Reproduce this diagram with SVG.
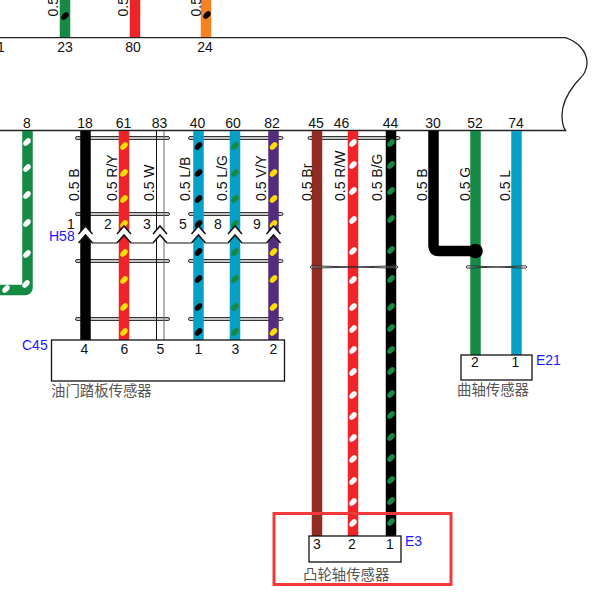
<svg xmlns="http://www.w3.org/2000/svg" width="602" height="604" viewBox="0 0 602 604">
<style>
text{font-family:"Liberation Sans",Arial,sans-serif;font-size:14px;fill:#111}
.m{text-anchor:middle}
.b{fill:#1a1aff}
.c{font-family:"Noto Sans CJK SC",sans-serif;font-size:14.4px;fill:#555}
.w{fill:none;stroke-width:10.5}
.box{fill:#fff;stroke:#111;stroke-width:1.3}
.bar{fill:#c4c4c4;stroke:#333;stroke-width:1}
.chev{fill:#fff;stroke:none}
.chevl{fill:none;stroke:#111;stroke-width:1.5}
.thin{fill:none;stroke:#111;stroke-width:1}
.tw{fill:#fff;fill-opacity:.3;stroke:#222;stroke-width:.9}
</style>
<defs>
<ellipse id="d" rx="4.500" ry="2.800" transform="rotate(-48)"/>
<g id="ch">
<path class="chev" d="M-7 8L0 0L7 8V17L0 9L-7 17Z"/>
<path class="chevl" d="M-7 8L0 0L7 8M-7 17L0 9L7 17"/>
</g>
</defs>
<rect width="602" height="604" fill="#fff"/>

<g id="harness">
<path d="M0 37.700H565.500C578 42 587 51 587 63C587 73 581 77 575 84C568 93 562 104 562 115C562 122 563 127 565.500 130.500H0" fill="#fff" stroke="#222" stroke-width="1.300"/>
</g>

<g id="clamps">
<rect class="bar" x="75.500" y="136.500" width="94" height="3" rx="1.500"/>
<rect class="bar" x="188.500" y="136.500" width="94.500" height="3" rx="1.500"/>
<rect class="bar" x="308" y="136.500" width="92" height="3" rx="1.500"/>
<rect class="bar" x="75.500" y="212.500" width="94" height="3" rx="1.500"/>
<rect class="bar" x="188.500" y="212.500" width="94.500" height="3" rx="1.500"/>
<rect class="bar" x="75.500" y="259.500" width="94" height="3" rx="1.500"/>
<rect class="bar" x="188.500" y="259.500" width="94.500" height="3" rx="1.500"/>
<rect class="bar" x="75.500" y="317.500" width="94" height="3" rx="1.500"/>
<rect class="bar" x="188.500" y="317.500" width="94.500" height="3" rx="1.500"/>
</g>

<g id="connectors">
<path class="w" stroke="#148a45" d="M65 0V37"/>
<path class="w" stroke="#ee2429" d="M135 0V37"/>
<path class="w" stroke="#f58220" d="M206 0V37"/>
<path class="w" stroke="#148a45" d="M27.500 131V288Q27.500 290 25 290H0"/>
<path class="w" stroke="#000" d="M85.500 131V340"/>
<path class="w" stroke="#ee2429" d="M124 131V340"/>
<path class="thin" d="M156.500 131V340"/>
<path class="thin" style="stroke:#666" d="M164 131V340"/>
<path class="w" stroke="#06a0c6" d="M198.500 131V340"/>
<path class="w" stroke="#06a0c6" d="M235 131V340"/>
<path class="w" stroke="#542c7c" d="M273.500 131V340"/>
<path class="w" stroke="#922b21" d="M317 131V536"/>
<path class="w" stroke="#ee2429" d="M353 131V536"/>
<path class="w" stroke="#000" d="M391 131V536"/>
<path class="w" stroke="#000" d="M433.500 131V246Q433.500 251 438.500 251H475"/>
<path class="w" stroke="#148a45" d="M475.500 131V355"/>
<path class="w" stroke="#06a0c6" d="M516.500 131V355"/>
<circle cx="475.500" cy="251" r="7.300" fill="#000"/>
<path class="tw" d="M311 265.800L397 268.200Q399 267 397 265.800L311 268.200Q309 267 311 265.800Z"/>
<path class="tw" d="M467 265.800L526 268.200Q528 267 526 265.800L467 268.200Q465 267 467 265.800Z"/>

<g fill="#000">
<use href="#d" x="65" y="16"/><use href="#d" x="207" y="15"/>
<use href="#d" x="198.500" y="146"/><use href="#d" x="198.500" y="173"/><use href="#d" x="198.500" y="199"/><use href="#d" x="198.500" y="224"/><use href="#d" x="198.500" y="252"/><use href="#d" x="198.500" y="279"/><use href="#d" x="198.500" y="307"/><use href="#d" x="198.500" y="332"/>
</g>
<g fill="#fff">
<use href="#d" x="27" y="142"/><use href="#d" x="27" y="168"/><use href="#d" x="27" y="195"/><use href="#d" x="27" y="223"/><use href="#d" x="27" y="254"/><use href="#d" x="26" y="284"/><use href="#d" x="6" y="289"/>
<use href="#d" x="353" y="143"/><use href="#d" x="353" y="165"/><use href="#d" x="353" y="191"/><use href="#d" x="353" y="220"/><use href="#d" x="353" y="251"/><use href="#d" x="353" y="280"/><use href="#d" x="353" y="307"/><use href="#d" x="353" y="329"/><use href="#d" x="353" y="350"/><use href="#d" x="353" y="372"/><use href="#d" x="353" y="395"/><use href="#d" x="353" y="416"/><use href="#d" x="353" y="438"/><use href="#d" x="353" y="459"/><use href="#d" x="353" y="481"/><use href="#d" x="353" y="502"/><use href="#d" x="353" y="523"/>
</g>
<g fill="#ffdd00">
<use href="#d" x="124" y="146"/><use href="#d" x="124" y="173"/><use href="#d" x="124" y="199"/><use href="#d" x="124" y="224"/><use href="#d" x="124" y="253"/><use href="#d" x="124" y="280"/><use href="#d" x="124" y="307"/><use href="#d" x="124" y="332"/>
<use href="#d" x="273.500" y="146"/><use href="#d" x="273.500" y="173"/><use href="#d" x="273.500" y="199"/><use href="#d" x="273.500" y="224"/><use href="#d" x="273.500" y="252"/><use href="#d" x="273.500" y="279"/><use href="#d" x="273.500" y="307"/><use href="#d" x="273.500" y="332"/>
</g>
<g fill="#148a45">
<use href="#d" x="235" y="146"/><use href="#d" x="235" y="173"/><use href="#d" x="235" y="199"/><use href="#d" x="235" y="224"/><use href="#d" x="235" y="252"/><use href="#d" x="235" y="279"/><use href="#d" x="235" y="307"/><use href="#d" x="235" y="332"/>
<use href="#d" x="391" y="143"/><use href="#d" x="391" y="165"/><use href="#d" x="391" y="191"/><use href="#d" x="391" y="219"/><use href="#d" x="391" y="250"/><use href="#d" x="391" y="279"/><use href="#d" x="391" y="307"/><use href="#d" x="391" y="328"/><use href="#d" x="391" y="350"/><use href="#d" x="391" y="371"/><use href="#d" x="391" y="394"/><use href="#d" x="391" y="415"/><use href="#d" x="391" y="437"/><use href="#d" x="391" y="458"/><use href="#d" x="391" y="480"/><use href="#d" x="391" y="501"/><use href="#d" x="391" y="522"/>
</g>
</g>

<g id="H58">
<path class="thin" d="M92 243H117M131 243H153M167 243H191.500M205.500 243H228M242 243H266.500"/>
<use href="#ch" x="85.500" y="226"/><use href="#ch" x="124" y="226"/><use href="#ch" x="160" y="226"/><use href="#ch" x="198.500" y="226"/><use href="#ch" x="235" y="226"/><use href="#ch" x="273.500" y="226"/>
<text x="49" y="241" class="b">H58</text>
<text x="71" y="229" class="m">1</text><text x="108" y="229" class="m">2</text><text x="147" y="229" class="m">3</text><text x="183" y="229" class="m">5</text><text x="218" y="229" class="m">8</text><text x="257" y="229" class="m">9</text>
</g>

<g id="C45">
<rect class="box" x="51.500" y="340" width="233" height="41"/>
<text x="22" y="350" class="b">C45</text>
<text x="84.500" y="354" class="m">4</text><text x="124.500" y="354" class="m">6</text><text x="160.500" y="354" class="m">5</text><text x="198.500" y="354" class="m">1</text><text x="235.500" y="354" class="m">3</text><text x="273.500" y="354" class="m">2</text>
<text x="51" y="396" class="c">油门踏板传感器</text>
</g>

<g id="E21">
<rect class="box" x="461" y="355" width="71" height="25"/>
<text x="475" y="367" class="m">2</text><text x="515.500" y="367" class="m">1</text>
<text x="536" y="365" class="b">E21</text>
<text x="457" y="395" class="c">曲轴传感器</text>
</g>

<g id="E3">
<rect x="274" y="513.500" width="177" height="71" fill="none" stroke="#f33a3a" stroke-width="3"/>
<rect class="box" x="309" y="536" width="92" height="26"/>
<text x="317" y="549" class="m">3</text><text x="352" y="549" class="m">2</text><text x="390" y="549" class="m">1</text>
<text x="405" y="546" class="b">E3</text>
<text x="303" y="580" class="c">凸轮轴传感器</text>
</g>

<g id="pins">
<text x="-3" y="52">1</text>
<text x="65" y="52" class="m">23</text><text x="133" y="52" class="m">80</text><text x="205" y="52" class="m">24</text>
<text x="27" y="128" class="m">8</text><text x="85" y="128" class="m">18</text><text x="123.500" y="128" class="m">61</text><text x="159.500" y="128" class="m">83</text><text x="197.500" y="128" class="m">40</text><text x="233" y="128" class="m">60</text><text x="272" y="128" class="m">82</text><text x="316" y="128" class="m">45</text><text x="341.500" y="128" class="m">46</text><text x="390.500" y="128" class="m">44</text><text x="433" y="128" class="m">30</text><text x="475" y="128" class="m">52</text><text x="516" y="128" class="m">74</text>
</g>

<g id="wire-labels">
<text transform="translate(58 16.500) rotate(-90)">0.5</text>
<text transform="translate(128 16.500) rotate(-90)">0.5</text>
<text transform="translate(201 16.500) rotate(-90)">0.5</text>
<text transform="translate(79 201) rotate(-90)">0.5 B</text>
<text transform="translate(116.500 201) rotate(-90)">0.5 R/Y</text>
<text transform="translate(153.500 201) rotate(-90)">0.5 W</text>
<text transform="translate(189.500 201) rotate(-90)">0.5 L/B</text>
<text transform="translate(227 201) rotate(-90)">0.5 L/G</text>
<text transform="translate(266 201) rotate(-90)">0.5 V/Y</text>
<text transform="translate(311.500 201) rotate(-90)">0.5 Br</text>
<text transform="translate(345 201) rotate(-90)">0.5 R/W</text>
<text transform="translate(381.500 201) rotate(-90)">0.5 B/G</text>
<text transform="translate(426.500 201) rotate(-90)">0.5 B</text>
<text transform="translate(469.500 201) rotate(-90)">0.5 G</text>
<text transform="translate(510 201) rotate(-90)">0.5 L</text>
</g>
</svg>
